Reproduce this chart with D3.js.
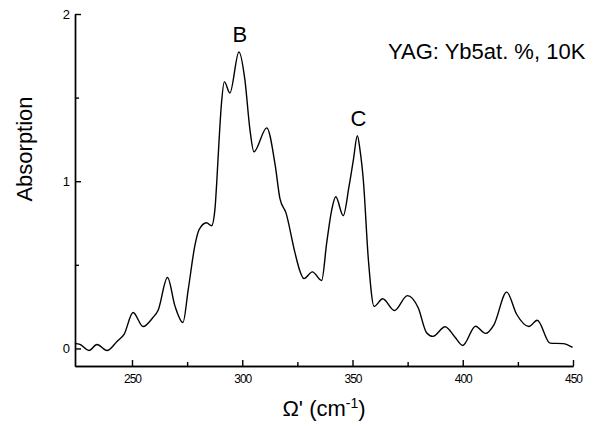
<!DOCTYPE html>
<html>
<head>
<meta charset="utf-8">
<script src="https://cdn.jsdelivr.net/npm/d3@7"></script>
<style>
  body { margin: 0; background: #fff; }
  svg { font-family: "Liberation Sans", Arial, sans-serif; }
  .axis path, .axis line { stroke: #000; stroke-width: 1.4; }
  .axis text { fill: #000; font-size: 12px; }
</style>
</head>
<body>
<div id="chart"></div>
<script>
// wavenumber (cm-1) and absorption
var wavenumber = [224.1, 226.4, 230.5, 234.1, 238.7, 243.2, 246.4, 250.5, 255.0, 259.5,
  261.8, 266.1, 269.5, 273.1, 275.5, 278.6, 280.4, 283.8, 286.1, 287.6,
  288.5, 289.5, 290.6, 291.9, 294.4, 298.5, 301.2, 303.5, 305.3, 311.1,
  314.9, 317.1, 319.8, 323.9, 326.2, 328.0, 331.8, 336.0, 338.3, 340.6,
  342.4, 345.8, 348.4, 350.4, 352.2, 353.4, 354.9, 357.2, 359.8, 363.7,
  369.0, 374.9, 379.8, 383.6, 386.5, 392.0, 396.5, 400.0, 405.8, 410.3,
  414.2, 419.9, 424.5, 430.0, 433.8, 439.6, 445.5, 449.8];
var absorption = [0.03, 0.024, -0.012, 0.024, -0.012, 0.042, 0.084, 0.215, 0.131, 0.185,
  0.227, 0.424, 0.253, 0.155, 0.352, 0.621, 0.710, 0.752, 0.734, 0.830,
  1.009, 1.248, 1.469, 1.594, 1.528, 1.773, 1.606, 1.307, 1.176, 1.319,
  1.099, 0.896, 0.812, 0.573, 0.461, 0.418, 0.458, 0.406, 0.631, 0.830,
  0.907, 0.794, 0.967, 1.128, 1.272, 1.188, 1.009, 0.531, 0.251, 0.297,
  0.227, 0.316, 0.243, 0.094, 0.072, 0.130, 0.067, 0.018, 0.133, 0.090,
  0.143, 0.337, 0.203, 0.131, 0.169, 0.032, 0.029, 0.006];
var xMajor = [250, 300, 350, 400, 450];
var xMinor = [275, 325, 375, 425];
var yMajor = [0, 1, 2];
var yMinor = [0.5, 1.5];
var peakLabels = [{name: 'B', v: 298.5, a: 1.773}, {name: 'C', v: 352.2, a: 1.272}];

var width = 596, height = 426;
var svg = d3.select('#chart').append('svg').attr('width', width).attr('height', height);

var x = d3.scaleLinear().domain([224.15, 450]).range([75, 573]);
var y = d3.scaleLinear().domain([-0.105, 2]).range([366, 14]);

// minor ticks first, then major axes on top
svg.append('g').attr('class', 'axis').attr('transform', 'translate(0,366)')
  .call(d3.axisBottom(x).tickValues(xMinor).tickSize(-4).tickSizeOuter(0).tickFormat(''));
svg.append('g').attr('class', 'axis').attr('transform', 'translate(75,0)')
  .call(d3.axisLeft(y).tickValues(yMinor).tickSize(-4).tickSizeOuter(0).tickFormat(''));

var xa = svg.append('g').attr('class', 'axis').attr('transform', 'translate(0,366)')
  .call(d3.axisBottom(x).tickValues(xMajor).tickSize(-6).tickSizeOuter(0).tickPadding(8.5).tickFormat(d3.format('d')));
xa.selectAll('text').style('letter-spacing', '-1px');
svg.append('g').attr('class', 'axis').attr('transform', 'translate(75,0)')
  .call(d3.axisLeft(y).tickValues(yMajor).tickSize(-6).tickSizeOuter(0).tickPadding(5).tickFormat(d3.format('d')))
  .selectAll('text').style('font-size', '13px');

var line = d3.line()
  .x(function(d, i) { return x(wavenumber[i]); })
  .y(function(d) { return y(d); })
  .curve(d3.curveMonotoneX);
svg.append('path').datum(absorption).attr('d', line)
  .attr('fill', 'none').attr('stroke', '#000').attr('stroke-width', 1.4);

svg.selectAll('.peak').data(peakLabels).enter().append('text').attr('class', 'peak')
  .attr('x', function(d) { return x(d.v) + 1; })
  .attr('y', function(d) { return y(d.a) - 10; })
  .attr('text-anchor', 'middle').style('font-size', '22px').text(function(d) { return d.name; });

svg.append('text').attr('x', 388).attr('y', 59).style('font-size', '22px')
  .text('YAG: Yb5at. %, 10K');

svg.append('text').attr('transform', 'translate(32,149) rotate(-90)')
  .attr('text-anchor', 'middle').style('font-size', '22px').text('Absorption');

var xt = svg.append('text').attr('x', 324).attr('y', 416).attr('text-anchor', 'middle').style('font-size', '22px');
xt.append('tspan').text("Ω' (cm");
xt.append('tspan').attr('dy', -8).style('font-size', '14px').text('-1');
xt.append('tspan').attr('dy', 8).text(')');
</script>
</body>
</html>
